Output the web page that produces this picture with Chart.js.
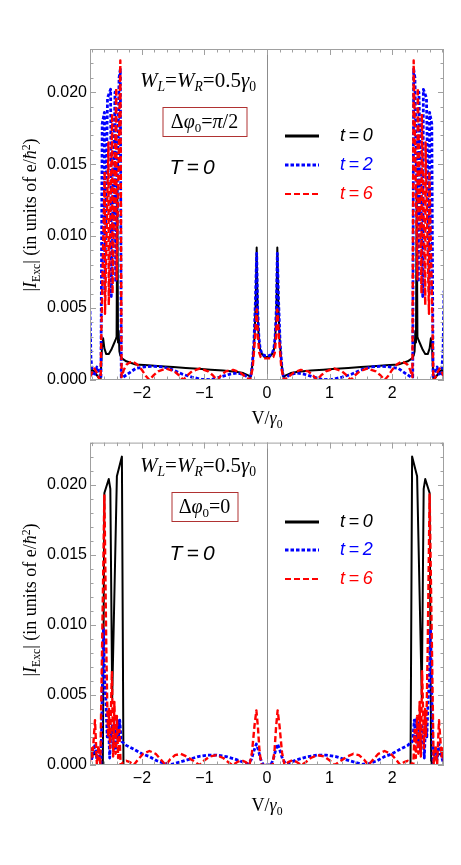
<!DOCTYPE html>
<html lang="en">
<head>
<meta charset="UTF-8">
<title>|I_Exc| versus V/γ0</title>
<script src="https://cdn.jsdelivr.net/npm/chart.js"></script>
<style>
  body { margin: 0; background: #fff; }
  #page { position: relative; width: 461px; height: 865px; overflow: hidden; }
  .panel { position: absolute; left: 0; }
  .note {
    position: absolute;
    transform: translate(-50%, -50%);
    white-space: nowrap;
    font-family: 'Liberation Serif', serif;
    font-size: 20px;
    line-height: 1;
    color: #000;
  }
  .note sub { font-size: 0.65em; vertical-align: -0.3em; line-height: 0; }
  .note sup { font-size: 0.65em; vertical-align: 0.55em; line-height: 0; }
  .wide { font-size: 21px; }
  .phase {
    box-sizing: border-box;
    height: 30px;
    line-height: 27px;
    text-align: center;
    border: 1.5px solid #b03232;
  }
  .temp { font-family: 'Liberation Sans', sans-serif; font-style: italic; font-size: 21px; }
  .xtitle { font-size: 18px; }
  .ytitle { font-size: 18px; transform: translate(-50%, -50%) rotate(-90deg); }
</style>
</head>
<body>
<div id="page">
  <canvas id="topChart" class="panel" style="top:0" width="461" height="430"></canvas>
  <canvas id="bottomChart" class="panel" style="top:430px" width="461" height="435"></canvas>

  <!-- top panel texts -->
  <div class="note wide" style="left:198px; top:80px"><i>W</i><sub><i>L</i></sub>=<i>W</i><sub><i>R</i></sub>=0.5<i>γ</i><sub>0</sub></div>
  <div class="note phase" style="left:204.5px; top:122px; width:85px">Δ<i>φ</i><sub>0</sub>=<i>π</i>/2</div>
  <div class="note temp" style="left:192px; top:166px">T&thinsp;=&thinsp;0</div>
  <div class="note xtitle" style="left:267px; top:418px">V/<i>γ</i><sub>0</sub></div>
  <div class="note ytitle" style="left:30px; top:214.5px">|<i>I</i><sub>Exc</sub>| (in units of e/<i>ħ</i><sup>2</sup>)</div>

  <!-- bottom panel texts -->
  <div class="note wide" style="left:198px; top:465px"><i>W</i><sub><i>L</i></sub>=<i>W</i><sub><i>R</i></sub>=0.5<i>γ</i><sub>0</sub></div>
  <div class="note phase" style="left:204.5px; top:507px; width:67px">Δ<i>φ</i><sub>0</sub>=0</div>
  <div class="note temp" style="left:192px; top:552px">T&thinsp;=&thinsp;0</div>
  <div class="note xtitle" style="left:267px; top:805px">V/<i>γ</i><sub>0</sub></div>
  <div class="note ytitle" style="left:30px; top:600px">|<i>I</i><sub>Exc</sub>| (in units of e/<i>ħ</i><sup>2</sup>)</div>
</div>
<script>
// series labels
const seriesLabels = ['t\u2009=\u20090', 't\u2009=\u20092', 't\u2009=\u20096'];
const yTickStep = 0.005;
const xTickStep = 1;

// top panel, Δφ0 = π/2 : [V/γ0, |I_Exc|]
const topT0 = [
  [-2.83,0.0004],[-2.80,0.0007],[-2.76,0.0006],[-2.70,0.0002],[-2.66,0.0001],[-2.64,0.0022],[-2.62,0.0029],
  [-2.60,0.0022],[-2.57,0.0018],[-2.53,0.0018],[-2.49,0.0021],[-2.45,0.0025],[-2.42,0.0028],[-2.405,0.0030],
  [-2.393,0.0133],[-2.382,0.0026],[-2.372,0.0034],[-2.36,0.0020],[-2.345,0.0017],[-2.32,0.0015],[-2.25,0.0013],
  [-2.10,0.00108],
  [-1.90,0.00102],[-1.70,0.00096],[-1.50,0.00090],[-1.30,0.00084],[-1.10,0.00078],[-0.90,0.00072],[-0.70,0.00066],
  [-0.50,0.00058],[-0.38,0.00048],[-0.30,0.00032],[-0.26,0.00022],[-0.23,0.0012],[-0.20,0.0030],[-0.18,0.0055],
  [-0.165,0.0092],[-0.15,0.0045],[-0.13,0.0028],[-0.11,0.0021],[-0.08,0.0018],[-0.04,0.0016],[0,0.0016],
  [0.04,0.0016],[0.08,0.0018],[0.11,0.0021],[0.13,0.0028],[0.15,0.0045],[0.165,0.0092],[0.18,0.0055],
  [0.20,0.0030],[0.23,0.0012],[0.26,0.00022],[0.30,0.00032],[0.38,0.00048],[0.50,0.00058],[0.70,0.00066],
  [0.90,0.00072],[1.10,0.00078],[1.30,0.00084],[1.50,0.00090],[1.70,0.00096],[1.90,0.00102],[2.10,0.00108],
  [2.25,0.0013],[2.32,0.0015],[2.345,0.0017],[2.36,0.0020],[2.372,0.0034],[2.382,0.0026],[2.393,0.0133],
  [2.405,0.0030],[2.42,0.0028],[2.45,0.0025],[2.49,0.0021],[2.53,0.0018],[2.57,0.0018],[2.60,0.0022],[2.62,0.0029],
  [2.64,0.0022],[2.66,0.0001],[2.70,0.0002],[2.76,0.0006],[2.80,0.0007],[2.83,0.0004]
];
const topT2 = [
  [-2.83,0.0048],[-2.815,0.0015],[-2.79,0.0004],[-2.76,0.0003],[-2.72,0.0009],[-2.68,0.0005],[-2.655,0.0001],
  [-2.635,0.0178],[-2.60,0.0186],[-2.595,0.0060],[-2.55,0.0196],[-2.50,0.0202],[-2.49,0.0058],[-2.43,0.0200],
  [-2.42,0.0068],[-2.365,0.0210],[-2.345,0.0216],[-2.33,0.0002],[-2.30,0.0002],[-2.20,0.0005],
  [-2.10,0.0008],[-1.95,0.00092],[-1.80,0.00095],[-1.65,0.0009],[-1.50,0.0007],[-1.35,0.0004],[-1.20,0.0002],
  [-1.05,0.00005],[-0.90,0.00002],[-0.75,0.0002],[-0.60,0.0004],[-0.48,0.00048],[-0.38,0.0004],[-0.31,0.0002],
  [-0.27,0.00003],[-0.24,0.0008],[-0.21,0.0025],[-0.185,0.0055],[-0.165,0.0088],[-0.15,0.0050],[-0.13,0.0030],
  [-0.11,0.0022],[-0.08,0.0018],[-0.04,0.0017],[0,0.0017],
  [0.04,0.0017],[0.08,0.0018],[0.11,0.0022],[0.13,0.0030],[0.15,0.0050],[0.165,0.0088],[0.185,0.0055],
  [0.21,0.0025],[0.24,0.0008],[0.27,0.00003],[0.31,0.0002],[0.38,0.0004],[0.48,0.00048],[0.60,0.0004],
  [0.75,0.0002],[0.90,0.00002],[1.05,0.00005],[1.20,0.0002],[1.35,0.0004],[1.50,0.0007],[1.65,0.0009],
  [1.80,0.00095],[1.95,0.00092],[2.10,0.0008],[2.20,0.0005],[2.30,0.0002],[2.33,0.0002],[2.345,0.0216],
  [2.365,0.0210],[2.42,0.0068],[2.43,0.0200],[2.49,0.0058],[2.50,0.0202],[2.55,0.0196],[2.595,0.0060],
  [2.60,0.0186],[2.635,0.0178],[2.655,0.0001],[2.68,0.0005],[2.72,0.0009],[2.76,0.0003],
  [2.79,0.0004],[2.815,0.0020],[2.83,0.0062]
];
const topT6 = [
  [-2.83,0.0002],[-2.80,0.0005],[-2.76,0.0008],[-2.72,0.0005],[-2.685,0.0001],[-2.66,0.0000],[-2.645,0.0042],
  [-2.595,0.0145],[-2.59,0.0046],[-2.535,0.0165],[-2.53,0.0052],[-2.475,0.0185],[-2.47,0.0060],[-2.41,0.0203],
  [-2.405,0.0070],[-2.345,0.0222],[-2.325,0.0002],[-2.29,0.0007],[-2.24,0.0011],[-2.16,0.0013],
  [-2.08,0.0011],[-2.00,0.0007],[-1.94,0.0003],[-1.88,0.0000],[-1.82,0.0003],[-1.74,0.0006],[-1.61,0.0008],
  [-1.48,0.0006],[-1.40,0.0003],[-1.34,0.0000],[-1.28,0.0003],[-1.20,0.0006],[-1.07,0.0008],[-0.94,0.0006],
  [-0.86,0.0003],[-0.80,0.0000],[-0.74,0.0003],[-0.66,0.0006],[-0.54,0.0007],[-0.42,0.0005],[-0.34,0.0002],
  [-0.27,0.0000],[-0.23,0.0008],[-0.19,0.0030],[-0.165,0.0049],[-0.145,0.0030],[-0.125,0.0019],[-0.10,0.0016],
  [-0.05,0.0015],[0,0.0015],
  [0.05,0.0015],[0.10,0.0016],[0.125,0.0019],[0.145,0.0030],[0.165,0.0049],[0.19,0.0030],[0.23,0.0008],
  [0.27,0.0000],[0.34,0.0002],[0.42,0.0005],[0.54,0.0007],[0.66,0.0006],[0.74,0.0003],[0.80,0.0000],
  [0.86,0.0003],[0.94,0.0006],[1.07,0.0008],[1.20,0.0006],[1.28,0.0003],[1.34,0.0000],[1.40,0.0003],
  [1.48,0.0006],[1.61,0.0008],[1.74,0.0006],[1.82,0.0003],[1.88,0.0000],[1.94,0.0003],[2.00,0.0007],
  [2.08,0.0011],[2.16,0.0013],[2.24,0.0011],[2.29,0.0007],[2.325,0.0002],[2.345,0.0222],[2.405,0.0070],
  [2.41,0.0203],[2.47,0.0060],[2.475,0.0185],[2.53,0.0052],[2.535,0.0165],[2.59,0.0046],[2.595,0.0145],
  [2.645,0.0042],[2.66,0.0000],[2.685,0.0001],[2.72,0.0005],[2.76,0.0008],[2.80,0.0005],[2.83,0.0002]
];

// bottom panel, Δφ0 = 0 : [V/γ0, |I_Exc|]
const bottomT0 = [
  [-2.83,0.0005],[-2.80,0.0007],[-2.74,0.0008],[-2.68,0.0004],[-2.64,0.0000],[-2.625,0.0000],[-2.60,0.0194],
  [-2.53,0.0204],[-2.505,0.0197],[-2.475,0.0048],[-2.40,0.0206],[-2.32,0.0220],[-2.295,0.0000],[0,0.0000],
  [2.295,0.0000],[2.32,0.0220],[2.40,0.0206],[2.475,0.0048],[2.505,0.0197],[2.53,0.0204],[2.60,0.0194],
  [2.625,0.0000],[2.64,0.0000],[2.68,0.0004],[2.74,0.0008],[2.80,0.0007],[2.83,0.0005]
];
const bottomT2 = [
  [-2.83,0.0010],[-2.81,0.0003],[-2.78,0.0008],[-2.75,0.0015],[-2.72,0.0004],[-2.69,0.0012],[-2.655,0.0000],
  [-2.615,0.0097],[-2.595,0.0060],[-2.575,0.0045],[-2.555,0.0020],[-2.535,0.0030],[-2.515,0.0005],[-2.495,0.0025],
  [-2.475,0.0028],[-2.455,0.0010],[-2.435,0.0030],[-2.415,0.0012],[-2.395,0.0033],[-2.375,0.0020],[-2.355,0.0032],
  [-2.33,0.0017],[-2.25,0.0014],[-2.12,0.0011],[-2.00,0.0008],[-1.88,0.0006],[-1.76,0.0003],[-1.64,0.00012],
  [-1.52,0.00005],[-1.40,0.0002],[-1.25,0.0004],[-1.10,0.0006],[-0.95,0.0007],[-0.80,0.0007],[-0.65,0.0006],
  [-0.50,0.0004],[-0.38,0.0002],[-0.30,0.0001],[-0.25,0.0004],[-0.21,0.0010],[-0.17,0.0015],[-0.14,0.0011],
  [-0.10,0.0004],[-0.06,0.0000],[0,0.0000],
  [0.06,0.0000],[0.10,0.0004],[0.14,0.0011],[0.17,0.0015],[0.21,0.0010],[0.25,0.0004],[0.30,0.0001],
  [0.38,0.0002],[0.50,0.0004],[0.65,0.0006],[0.80,0.0007],[0.95,0.0007],[1.10,0.0006],[1.25,0.0004],
  [1.40,0.0002],[1.52,0.00005],[1.64,0.00012],[1.76,0.0003],[1.88,0.0006],[2.00,0.0008],[2.12,0.0011],
  [2.25,0.0014],[2.33,0.0017],[2.355,0.0032],[2.375,0.0020],[2.395,0.0033],[2.415,0.0012],[2.435,0.0030],
  [2.455,0.0010],[2.475,0.0028],[2.495,0.0025],[2.515,0.0005],[2.535,0.0030],[2.555,0.0020],[2.575,0.0045],
  [2.595,0.0060],[2.615,0.0097],[2.655,0.0000],[2.69,0.0012],[2.72,0.0004],[2.75,0.0015],[2.78,0.0008],
  [2.81,0.0003],[2.83,0.0010]
];
const bottomT6 = [
  [-2.83,0.0002],[-2.815,0.0012],[-2.79,0.0006],[-2.75,0.0032],[-2.72,0.0000],[-2.695,0.0014],[-2.665,0.0000],
  [-2.60,0.0193],[-2.585,0.0140],[-2.57,0.0085],[-2.555,0.0045],[-2.54,0.0020],[-2.525,0.0040],[-2.51,0.0012],
  [-2.48,0.0067],[-2.46,0.0006],[-2.44,0.0045],[-2.42,0.0008],[-2.40,0.0035],[-2.38,0.0005],[-2.36,0.0025],
  [-2.34,0.0000],[-2.30,0.0002],[-2.25,0.0003],[-2.19,0.0002],[-2.13,0.0000],[-2.06,0.0004],[-1.98,0.0008],
  [-1.88,0.0010],[-1.78,0.0008],[-1.70,0.0004],[-1.62,0.0000],[-1.55,0.0004],[-1.47,0.0007],[-1.38,0.0008],
  [-1.28,0.0006],[-1.18,0.0003],[-1.08,0.0000],[-1.01,0.0003],[-0.92,0.0006],[-0.81,0.0007],[-0.70,0.0005],
  [-0.62,0.0002],[-0.55,0.0000],[-0.48,0.0002],[-0.41,0.00035],[-0.34,0.0002],[-0.28,0.0000],[-0.24,0.0009],
  [-0.20,0.0028],[-0.17,0.0039],[-0.145,0.0027],[-0.12,0.0010],[-0.09,0.0000],[0,0.0000],
  [0.09,0.0000],[0.12,0.0010],[0.145,0.0027],[0.17,0.0039],[0.20,0.0028],[0.24,0.0009],[0.28,0.0000],
  [0.34,0.0002],[0.41,0.00035],[0.48,0.0002],[0.55,0.0000],[0.62,0.0002],[0.70,0.0005],[0.81,0.0007],
  [0.92,0.0006],[1.01,0.0003],[1.08,0.0000],[1.18,0.0003],[1.28,0.0006],[1.38,0.0008],[1.47,0.0007],
  [1.55,0.0004],[1.62,0.0000],[1.70,0.0004],[1.78,0.0008],[1.88,0.0010],[1.98,0.0008],[2.06,0.0004],
  [2.13,0.0000],[2.19,0.0002],[2.25,0.0003],[2.30,0.0002],[2.34,0.0000],[2.36,0.0025],[2.38,0.0005],
  [2.40,0.0035],[2.42,0.0008],[2.44,0.0045],[2.46,0.0006],[2.48,0.0067],[2.51,0.0012],[2.525,0.0040],
  [2.54,0.0020],[2.555,0.0045],[2.57,0.0085],[2.585,0.0140],[2.60,0.0193],[2.665,0.0000],[2.695,0.0014],
  [2.72,0.0000],[2.75,0.0032],[2.79,0.0006],[2.815,0.0012],[2.83,0.0002]
];

// frame with inward ticks (Mathematica style) and the V=0 line
const framePlugin = {
  id: 'frame',
  beforeDatasetsDraw(chart) {
    const { ctx, chartArea: a, scales: { x } } = chart;
    const x0 = Math.round(x.getPixelForValue(0)) + 0.5;
    ctx.save();
    ctx.strokeStyle = '#8c8c8c';
    ctx.lineWidth = 1;
    ctx.beginPath();
    ctx.moveTo(x0, a.top);
    ctx.lineTo(x0, a.bottom);
    ctx.stroke();
    ctx.restore();
  },
  afterDatasetsDraw(chart) {
    const { ctx, chartArea: a, scales: { x, y } } = chart;
    ctx.save();
    ctx.strokeStyle = '#a0a0a0';
    ctx.lineWidth = 1;
    ctx.strokeRect(a.left + 0.5, a.top + 0.5, a.right - a.left - 1, a.bottom - a.top - 1);
    ctx.beginPath();
    for (let k = Math.ceil(x.min / 0.2); k * 0.2 <= x.max; k++) {
      const px = Math.round(x.getPixelForValue(k * 0.2)) + 0.5;
      const len = k % 5 === 0 ? 6 : 3.5;
      ctx.moveTo(px, a.bottom); ctx.lineTo(px, a.bottom - len);
      ctx.moveTo(px, a.top); ctx.lineTo(px, a.top + len);
    }
    for (let k = 0; k * 0.001 <= y.max + 1e-9; k++) {
      const py = Math.round(y.getPixelForValue(k * 0.001)) + 0.5;
      const len = k % 5 === 0 ? 6 : 3.5;
      ctx.moveTo(a.left, py); ctx.lineTo(a.left + len, py);
      ctx.moveTo(a.right, py); ctx.lineTo(a.right - len, py);
    }
    ctx.stroke();
    ctx.restore();
  }
};

// legend inside the plot: line sample + coloured italic label
const keyPlugin = {
  id: 'key',
  afterDraw(chart, args, opts) {
    const ctx = chart.ctx;
    chart.data.datasets.forEach((ds, i) => {
      const yy = opts.rows[i];
      ctx.save();
      ctx.strokeStyle = ds.borderColor;
      ctx.lineWidth = ds.keyWidth;
      ctx.setLineDash(ds.borderDash || []);
      ctx.beginPath();
      ctx.moveTo(opts.x, yy);
      ctx.lineTo(opts.x + 34, yy);
      ctx.stroke();
      ctx.setLineDash([]);
      ctx.fillStyle = ds.borderColor;
      ctx.font = 'italic 18px "Liberation Sans"';
      ctx.textBaseline = 'middle';
      ctx.fillText(ds.label, opts.x + 55, yy);
      ctx.restore();
    });
  }
};

function toPoints(arr) {
  return arr.map(p => ({ x: p[0], y: p[1] }));
}

function makeChart(id, series, padTop, xAxisHeight, keyRows) {
  const styles = [
    { color: '#000000', width: 2, dash: [], key: 3, order: 2 },
    { color: '#0000ff', width: 2.8, dash: [3.5, 2], key: 3, order: 1 },
    { color: '#ff0000', width: 2.4, dash: [6, 3], key: 2.2, order: 0 }
  ];
  return new Chart(document.getElementById(id), {
    type: 'line',
    data: {
      datasets: series.map((s, i) => ({
        label: seriesLabels[i],
        data: toPoints(s),
        borderColor: styles[i].color,
        borderWidth: styles[i].width,
        borderDash: styles[i].dash,
        keyWidth: styles[i].key,
        order: styles[i].order,
        borderJoinStyle: 'round',
        pointRadius: 0,
        fill: false,
        tension: 0
      }))
    },
    options: {
      responsive: false,
      animation: false,
      events: [],
      layout: { padding: { top: padTop, right: 17, left: 0, bottom: 0 } },
      plugins: {
        legend: { display: false },
        tooltip: { enabled: false },
        key: { x: 285, rows: keyRows }
      },
      scales: {
        x: {
          type: 'linear',
          min: -2.83,
          max: 2.83,
          grid: { display: false, drawTicks: false },
          border: { display: false },
          ticks: {
            stepSize: xTickStep,
            includeBounds: false,
            maxRotation: 0,
            padding: 4,
            color: '#000',
            font: { family: 'Liberation Sans', size: 16 },
            callback: v => (v < 0 ? '\u2212' + Math.abs(v) : String(v))
          },
          afterFit: s => { s.height = xAxisHeight; }
        },
        y: {
          min: 0,
          max: 0.023,
          grid: { display: false, drawTicks: false },
          border: { display: false },
          ticks: {
            stepSize: yTickStep,
            includeBounds: false,
            padding: 3,
            color: '#000',
            font: { family: 'Liberation Sans', size: 16 },
            callback: v => Number(v).toFixed(3)
          },
          afterFit: s => { s.width = 90; }
        }
      }
    },
    plugins: [framePlugin, keyPlugin]
  });
}

makeChart('topChart', [topT0, topT2, topT6], 49, 50, [136, 165, 194]);
makeChart('bottomChart', [bottomT0, bottomT2, bottomT6], 5, 100, [92, 120, 149]);
</script>
</body>
</html>
